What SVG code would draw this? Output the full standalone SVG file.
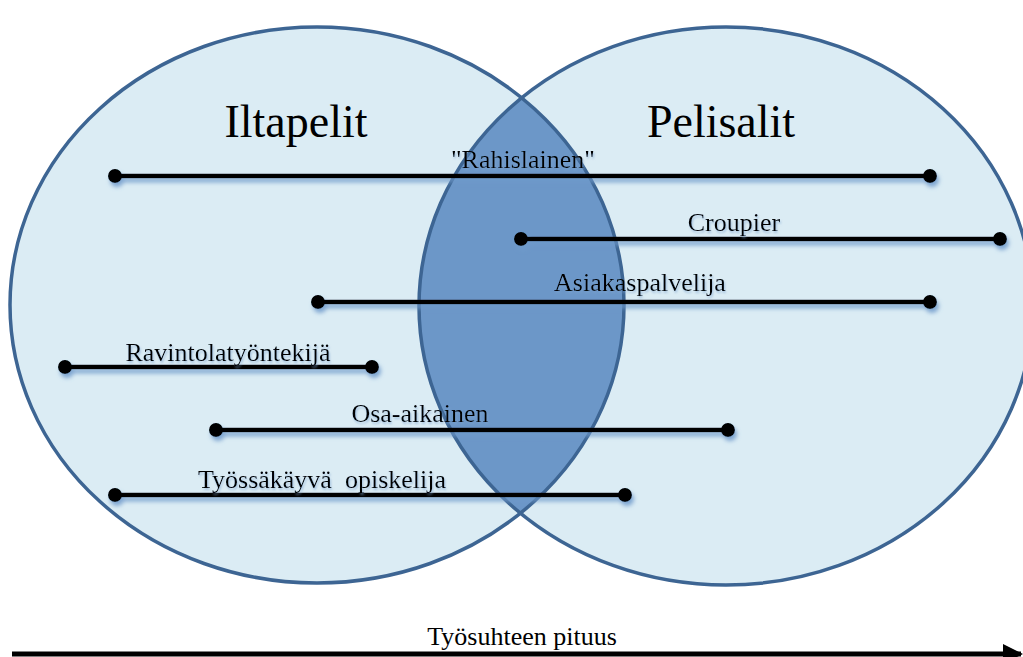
<svg xmlns="http://www.w3.org/2000/svg" width="1023" height="657" viewBox="0 0 1023 657">
  <style>
    .set { fill: #dbecf4; }
    .ring { fill: none; stroke: #3d6593; stroke-width: 3.5; }
    .overlap { fill: #6c97c8; }
    .title { font-family: "Liberation Serif", "Times New Roman", "DejaVu Serif", serif; font-size: 46px; fill: #000; text-anchor: middle; }
    .lbl { font-family: "Liberation Serif", "Times New Roman", "DejaVu Serif", serif; font-size: 26px; fill: #000; text-anchor: middle; white-space: pre; }
    .bar { stroke: #000; stroke-width: 4.5; fill: none; }
    .dot { fill: #000; }
  </style>
  <defs>
    <filter id="shade" x="-10%" y="-50%" width="120%" height="300%">
      <feGaussianBlur in="SourceAlpha" stdDeviation="2"/>
      <feOffset dx="2" dy="4" result="b"/>
      <feFlood flood-color="#6f9acb" flood-opacity="0.85"/>
      <feComposite in2="b" operator="in"/>
      <feMerge>
        <feMergeNode/>
        <feMergeNode in="SourceGraphic"/>
      </feMerge>
    </filter>
    <filter id="textShade" x="-5%" y="-30%" width="110%" height="160%">
      <feGaussianBlur in="SourceAlpha" stdDeviation="1.2"/>
      <feOffset dx="1" dy="2" result="b"/>
      <feFlood flood-color="#7ea4cf" flood-opacity="0.6"/>
      <feComposite in2="b" operator="in"/>
      <feMerge>
        <feMergeNode/>
        <feMergeNode in="SourceGraphic"/>
      </feMerge>
    </filter>
    <clipPath id="leftClip">
      <ellipse cx="317" cy="305" rx="307" ry="278"/>
    </clipPath>
    <marker id="arrow" viewBox="0 0 10 10" refX="9" refY="5" markerWidth="4" markerHeight="4" orient="auto">
      <path d="M0,0 L10,5 L0,10 z" fill="#000"/>
    </marker>
  </defs>

  <!-- two overlapping sets -->
  <g id="iltapelit">
    <ellipse class="set" cx="317" cy="305" rx="307" ry="278"/>
  </g>
  <g id="pelisalit">
    <ellipse class="set" cx="726" cy="306" rx="307" ry="279"/>
  </g>
  <g id="overlap">
    <ellipse class="overlap" cx="726" cy="306" rx="307" ry="279" clip-path="url(#leftClip)"/>
  </g>
  <g id="outlines">
    <ellipse class="ring" cx="317" cy="305" rx="307" ry="278"/>
    <ellipse class="ring" cx="726" cy="306" rx="307" ry="279"/>
  </g>

  <g id="set-titles">
    <text class="title" x="296" y="137">Iltapelit</text>
    <text class="title" x="721" y="137">Pelisalit</text>
  </g>

  <!-- role ranges -->
  <g id="connectors" filter="url(#shade)">
    <g id="rahislainen">
      <line class="bar" x1="115" y1="176" x2="930" y2="176"/>
      <circle class="dot" cx="115" cy="176" r="7"/>
      <circle class="dot" cx="930" cy="176" r="7"/>
    </g>
    <g id="croupier">
      <line class="bar" x1="521" y1="239" x2="1000" y2="239"/>
      <circle class="dot" cx="521" cy="239" r="7"/>
      <circle class="dot" cx="1000" cy="239" r="7"/>
    </g>
    <g id="asiakaspalvelija">
      <line class="bar" x1="318" y1="302" x2="930" y2="302"/>
      <circle class="dot" cx="318" cy="302" r="7"/>
      <circle class="dot" cx="930" cy="302" r="7"/>
    </g>
    <g id="ravintolatyontekija">
      <line class="bar" x1="65" y1="367" x2="372" y2="367"/>
      <circle class="dot" cx="65" cy="367" r="7"/>
      <circle class="dot" cx="372" cy="367" r="7"/>
    </g>
    <g id="osa-aikainen">
      <line class="bar" x1="216" y1="430" x2="728" y2="430"/>
      <circle class="dot" cx="216" cy="430" r="7"/>
      <circle class="dot" cx="728" cy="430" r="7"/>
    </g>
    <g id="tyossakayva-opiskelija">
      <line class="bar" x1="115" y1="495" x2="625" y2="495"/>
      <circle class="dot" cx="115" cy="495" r="7"/>
      <circle class="dot" cx="625" cy="495" r="7"/>
    </g>
  </g>

  <g id="role-labels" filter="url(#textShade)">
    <text class="lbl" x="523" y="168">"Rahislainen"</text>
    <text class="lbl" x="734" y="231">Croupier</text>
    <text class="lbl" x="640" y="291">Asiakaspalvelija</text>
    <text class="lbl" x="228" y="361">Ravintolatyöntekijä</text>
    <text class="lbl" x="420" y="422">Osa-aikainen</text>
    <text class="lbl" x="322" y="488">Työssäkäyvä  opiskelija</text>
  </g>

  <!-- time axis -->
  <g id="axis">
    <line x1="12" y1="654" x2="1021" y2="654" stroke="#000" stroke-width="5" marker-end="url(#arrow)"/>
    <text class="lbl" x="522" y="645">Työsuhteen pituus</text>
  </g>
</svg>
